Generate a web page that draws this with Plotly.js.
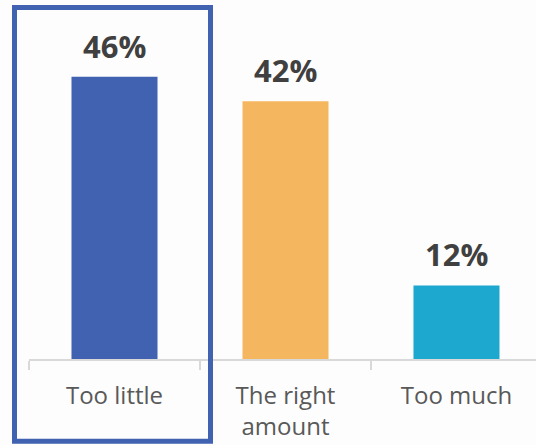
<!DOCTYPE html>
<html>
<head>
<meta charset="utf-8">
<script src="https://cdn.plot.ly/plotly-3.0.1.min.js"></script>
<style>
html,body{margin:0;padding:0;background:#fdfdfd;overflow:hidden;}
#chart{width:536px;height:445px;}
</style>
</head>
<body>
<div id="chart"></div>
<script>
const categories = ["Too little", "The right<br>amount", "Too much"];
const values = [46, 42, 12];
const labels = ["46%", "42%", "12%"];
const colors = ["#4161B1", "#F5B660", "#1DA8D0"];

const trace = {
  type: "bar",
  x: categories,
  y: values,
  marker: {color: colors},
  width: 0.503,
  hoverinfo: "none"
};

const annotations = categories.map((c, i) => ({
  x: c, y: values[i], xref: "x", yref: "y",
  text: "<b>" + labels[i] + "</b>",
  showarrow: false, yanchor: "bottom", yshift: 8,
  font: {family: "Open Sans", size: 31, color: "#404040"}
}));

const layout = {
  width: 536, height: 445,
  margin: {l: 29, r: 0, t: 5, b: 86},
  paper_bgcolor: "#fdfdfd",
  plot_bgcolor: "#fdfdfd",
  showlegend: false,
  xaxis: {
    type: "category",
    range: [-0.5, 2.465],
    showline: true, linecolor: "#d9d9d9", linewidth: 2,
    ticks: "outside", tickson: "boundaries", ticklen: 9, tickwidth: 2, tickcolor: "#d9d9d9",
    ticklabelstandoff: 14,
    tickfont: {family: "Open Sans", size: 24, color: "#595959"},
    showgrid: false, zeroline: false, fixedrange: true
  },
  yaxis: {
    range: [0, 57.7],
    visible: false, showgrid: false, zeroline: false, fixedrange: true
  },
  annotations: annotations,
  shapes: [{
    type: "rect", xref: "paper", yref: "paper",
    x0: -0.0286, x1: 0.358, y0: -0.232, y1: 0.993,
    line: {color: "#4161B1", width: 5},
    fillcolor: "rgba(0,0,0,0)", layer: "above"
  }]
};

Plotly.newPlot("chart", [trace], layout, {displayModeBar: false, staticPlot: true});
</script>
</body>
</html>
